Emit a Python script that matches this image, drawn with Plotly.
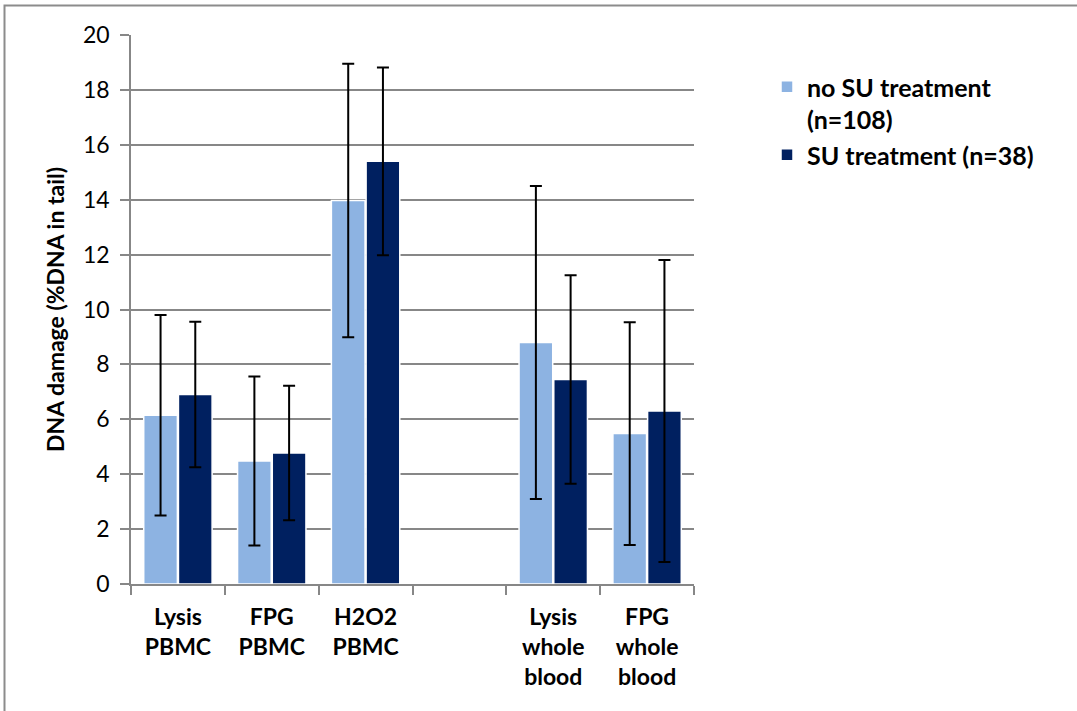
import plotly.graph_objects as go

categories = ["Lysis<br>PBMC", "FPG<br>PBMC", "H2O2<br>PBMC", " ", "Lysis<br>whole<br>blood", "FPG<br>whole<br>blood"]
no_su_values = [6.15, 4.48, 13.97, None, 8.8, 5.48]
no_su_errors = [3.65, 3.08, 4.98, None, 5.7, 4.06]
su_values = [6.9, 4.77, 15.4, None, 7.45, 6.3]
su_errors = [2.65, 2.45, 3.42, None, 3.8, 5.5]
y_ticks = [0, 2, 4, 6, 8, 10, 12, 14, 16, 18, 20]

W, H = 1077, 711
L, R, T, B = 131, 694, 35, 584
FONT = "Lato"
GRID = "#878787"

fig = go.Figure()
fig.add_trace(go.Bar(
    x=categories, y=no_su_values, name="no SU treatment<br>(n=108)",
    marker=dict(color="#8DB3E2", line=dict(color="white", width=1.5)),
    error_y=dict(type="data", array=no_su_errors, visible=True, color="black", thickness=2, width=6),
))
fig.add_trace(go.Bar(
    x=categories, y=su_values, name="SU treatment (n=38)",
    marker=dict(color="#002060", line=dict(color="white", width=1.5)),
    error_y=dict(type="data", array=su_errors, visible=True, color="black", thickness=2, width=6),
))

pw = R - L
ph = B - T

fig.update_layout(
    width=W, height=H,
    margin=dict(l=L, r=W - R, t=T, b=H - B),
    paper_bgcolor="white", plot_bgcolor="white",
    barmode="group", bargap=0.26, bargroupgap=0.03,
    font=dict(family=FONT, size=23, color="black"),
    showlegend=True,
    legend=dict(
        x=(767 - L) / pw, y=(B - 64) / ph, xanchor="left", yanchor="top",
        font=dict(family=FONT, size=25, color="black", weight="bold"),
        valign="top", itemwidth=30, tracegroupgap=2,
        bgcolor="rgba(0,0,0,0)",
    ),
    xaxis=dict(
        type="category", categoryorder="array", categoryarray=categories,
        showline=True, linecolor=GRID, linewidth=1.5,
        ticks="outside", ticklen=9, tickcolor=GRID, tickwidth=1.5,
        tickson="boundaries",
        tickfont=dict(family=FONT, size=23, color="black", weight="bold"),
        showgrid=False, ticklabelstandoff=12,
    ),
    yaxis=dict(
        range=[0, 20], tickvals=y_ticks,
        showline=True, linecolor=GRID, linewidth=1.5,
        showgrid=True, gridcolor=GRID, gridwidth=1.5,
        ticks="outside", ticklen=9, tickcolor=GRID, tickwidth=1.5,
        tickfont=dict(family=FONT, size=23, color="black"),
        ticklabelstandoff=6,
        zeroline=False,
        title=dict(text="DNA damage (%DNA in tail)", standoff=12,
                   font=dict(family=FONT, size=23, color="black", weight="bold")),
    ),
)

# outer chart border (extends past right and bottom edges of the view)
fig.add_shape(
    type="rect", xref="paper", yref="paper",
    x0=(4.5 - L) / pw, x1=(W + 20 - L) / pw,
    y0=(B - (H + 20)) / ph, y1=(B - 5.5) / ph,
    line=dict(color="#8C8C8C", width=2), fillcolor="rgba(0,0,0,0)", layer="below",
)

fig.write_html("out.html")
